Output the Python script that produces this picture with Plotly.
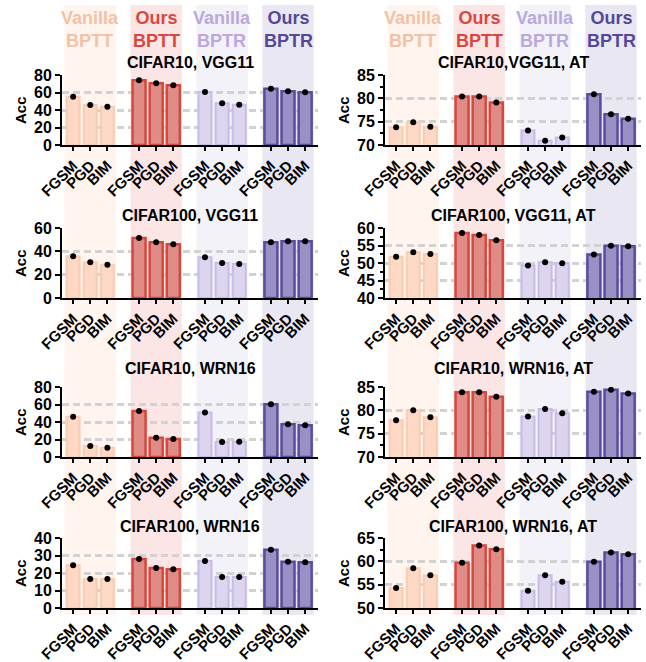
import plotly.graph_objects as go
from plotly.subplots import make_subplots

# ---------------- data ----------------
ATTACKS = ["FGSM", "PGD", "BIM"]
GROUPS = ["Vanilla<br>BPTT", "Ours<br>BPTT", "Vanilla<br>BPTR", "Ours<br>BPTR"]

# each list: [Vanilla BPTT x3, Ours BPTT x3, Vanilla BPTR x3, Ours BPTR x3] for FGSM, PGD, BIM
cifar10_vgg11 = [55.2, 45.7, 43.8, 73.9, 70.5, 68.2, 60.6, 47.6, 46.1, 64.4, 61.3, 60.2]
cifar10_vgg11_at = [73.8, 74.9, 73.9, 80.4, 80.4, 79.1, 73.1, 70.9, 71.6, 80.9, 76.6, 75.6]
cifar100_vgg11 = [35.7, 30.6, 28.6, 51.4, 47.7, 46.0, 34.9, 30.0, 29.1, 47.7, 48.6, 48.6]
cifar100_vgg11_at = [51.8, 53.1, 52.6, 58.6, 58.0, 56.5, 49.3, 50.2, 49.9, 52.4, 54.9, 54.8]
cifar10_wrn16 = [46.1, 12.6, 10.7, 52.6, 22.1, 20.6, 51.0, 17.1, 17.5, 60.2, 37.3, 36.2]
cifar10_wrn16_at = [77.9, 80.0, 78.5, 83.9, 83.9, 82.9, 78.7, 80.3, 79.4, 84.0, 84.4, 83.6]
cifar100_wrn16 = [24.4, 16.6, 16.6, 28.0, 22.9, 22.1, 26.9, 17.7, 17.7, 33.3, 26.5, 26.1]
cifar100_wrn16_at = [54.3, 58.5, 57.0, 59.7, 63.4, 62.6, 53.7, 57.0, 55.6, 59.9, 61.9, 61.5]

panel_titles = [
    ["CIFAR10, VGG11", "CIFAR10,VGG11, AT"],
    ["CIFAR100, VGG11", "CIFAR100, VGG11, AT"],
    ["CIFAR10, WRN16", "CIFAR10, WRN16, AT"],
    ["CIFAR100, WRN16", "CIFAR100, WRN16, AT"],
]
panel_data = [
    [cifar10_vgg11, cifar10_vgg11_at],
    [cifar100_vgg11, cifar100_vgg11_at],
    [cifar10_wrn16, cifar10_wrn16_at],
    [cifar100_wrn16, cifar100_wrn16_at],
]
y_ranges = [
    [(0, 80), (70, 85)],
    [(0, 60), (40, 60)],
    [(0, 80), (70, 85)],
    [(0, 40), (50, 65)],
]
y_dticks = [
    [20, 5],
    [20, 5],
    [20, 5],
    [10, 5],
]

# ---------------- style ----------------
W, H = 646, 662
FONT = "Liberation Sans, Arial, Helvetica, sans-serif"
GAP = 3.85
BAR_W = 0.76
fill_colors = ["#FDD8C5", "#E08C86", "#DDD4EF", "#9B90C6"]
line_colors = ["#FBCBB2", "#D8463C", "#C8BBE6", "#5A4B9F"]
line_widths = [2, 2.5, 2, 2.5]
head_colors = ["#F2C2A7", "#D9473F", "#B9A9DD", "#55489A"]
bg_colors = ["#FFF4EE", "#FCE5E5", "#F4F2F9", "#E9E7F2"]

row_px = [(75, 145), (228, 298), (387, 457), (538, 608)]
col_px = [(62, 318), (385, 641)]
title_off = [13, 13, 19, 12]
acc_x_px = [20, 343]

fig = make_subplots(rows=4, cols=2)

for r in range(4):
    for c in range(2):
        data = panel_data[r][c]
        all_x = []
        for g in range(4):
            xs = [g * GAP + i for i in range(3)]
            all_x += xs
            fig.add_trace(go.Bar(
                x=xs, y=data[3 * g:3 * g + 3], width=BAR_W,
                marker=dict(color=fill_colors[g],
                            line=dict(color=line_colors[g], width=line_widths[g])),
                showlegend=False, hoverinfo="skip"),
                row=r + 1, col=c + 1)
        fig.add_trace(go.Scatter(
            x=all_x, y=data, mode="markers",
            marker=dict(color="black", size=6),
            showlegend=False, hoverinfo="skip"),
            row=r + 1, col=c + 1)

        y0, y1 = row_px[r]
        x0, x1 = col_px[c]
        fig.update_xaxes(
            domain=[x0 / W, x1 / W], range=[-0.65, 14.3], automargin=False,
            tickmode="array", tickvals=all_x, ticktext=ATTACKS * 4,
            tickangle=-45, showline=True, linecolor="black", linewidth=2,
            ticks="outside", ticklen=4, tickwidth=1.5, tickcolor="black",
            showgrid=False, zeroline=False,
            tickfont=dict(family=FONT, size=15, color="black", weight="bold"),
            row=r + 1, col=c + 1)
        lo, hi = y_ranges[r][c]
        yax = dict(
            domain=[1 - y1 / H, 1 - y0 / H], range=[lo, hi], automargin=False,
            tick0=lo, dtick=y_dticks[r][c],
            showline=True, linecolor="black", linewidth=2,
            ticks="outside", ticklen=5, tickwidth=2, tickcolor="black",
            showgrid=True, gridcolor="#D2D2D2", gridwidth=2.5, griddash="7px,4px",
            zeroline=False,
            tickfont=dict(family=FONT, size=16, color="black", weight="bold"))
        if c == 1:
            yax["minor"] = dict(dtick=2.5, tick0=lo, ticks="outside", ticklen=3,
                                tickwidth=1.5, tickcolor="black", showgrid=False)
        fig.update_yaxes(row=r + 1, col=c + 1, **yax)

        # subplot title
        fig.add_annotation(
            x=(x0 + x1) / 2 / W, y=1 - (y0 - title_off[r]) / H,
            xref="paper", yref="paper", xanchor="center", yanchor="middle",
            text="<b>" + panel_titles[r][c] + "</b>", showarrow=False,
            font=dict(family=FONT, size=16, color="black"))
        # y-axis title
        fig.add_annotation(
            x=acc_x_px[c] / W, y=1 - (y0 + y1) / 2 / H,
            xref="paper", yref="paper", xanchor="center", yanchor="middle",
            text="<b>Acc</b>", textangle=-90, showarrow=False,
            font=dict(family=FONT, size=15, color="black"))

# background bands and group headers
for c, xr in enumerate(["x", "x2"]):
    for g in range(4):
        cx = g * GAP + 1
        fig.add_shape(type="rect", xref=xr, yref="paper",
                      x0=cx - 1.5, x1=cx + 1.5, y0=1 - 615 / H, y1=1 - 5 / H,
                      fillcolor=bg_colors[g], line=dict(width=0), layer="below")
        fig.add_annotation(
            x=cx, y=1 - 29.5 / H, xref=xr, yref="paper",
            xanchor="center", yanchor="middle",
            text="<b>" + GROUPS[g] + "</b>", showarrow=False,
            font=dict(family=FONT, size=18, color=head_colors[g]))

fig.update_layout(
    width=W, height=H, margin=dict(l=0, r=0, t=0, b=0, autoexpand=False),
    paper_bgcolor="white", plot_bgcolor="rgba(0,0,0,0)",
    barmode="overlay", font=dict(family=FONT, color="black"),
)

fig.write_html(
    "out.html",
    config={"displayModeBar": False},
    post_script="document.body.style.margin='0';document.body.style.overflow='hidden';",
)
